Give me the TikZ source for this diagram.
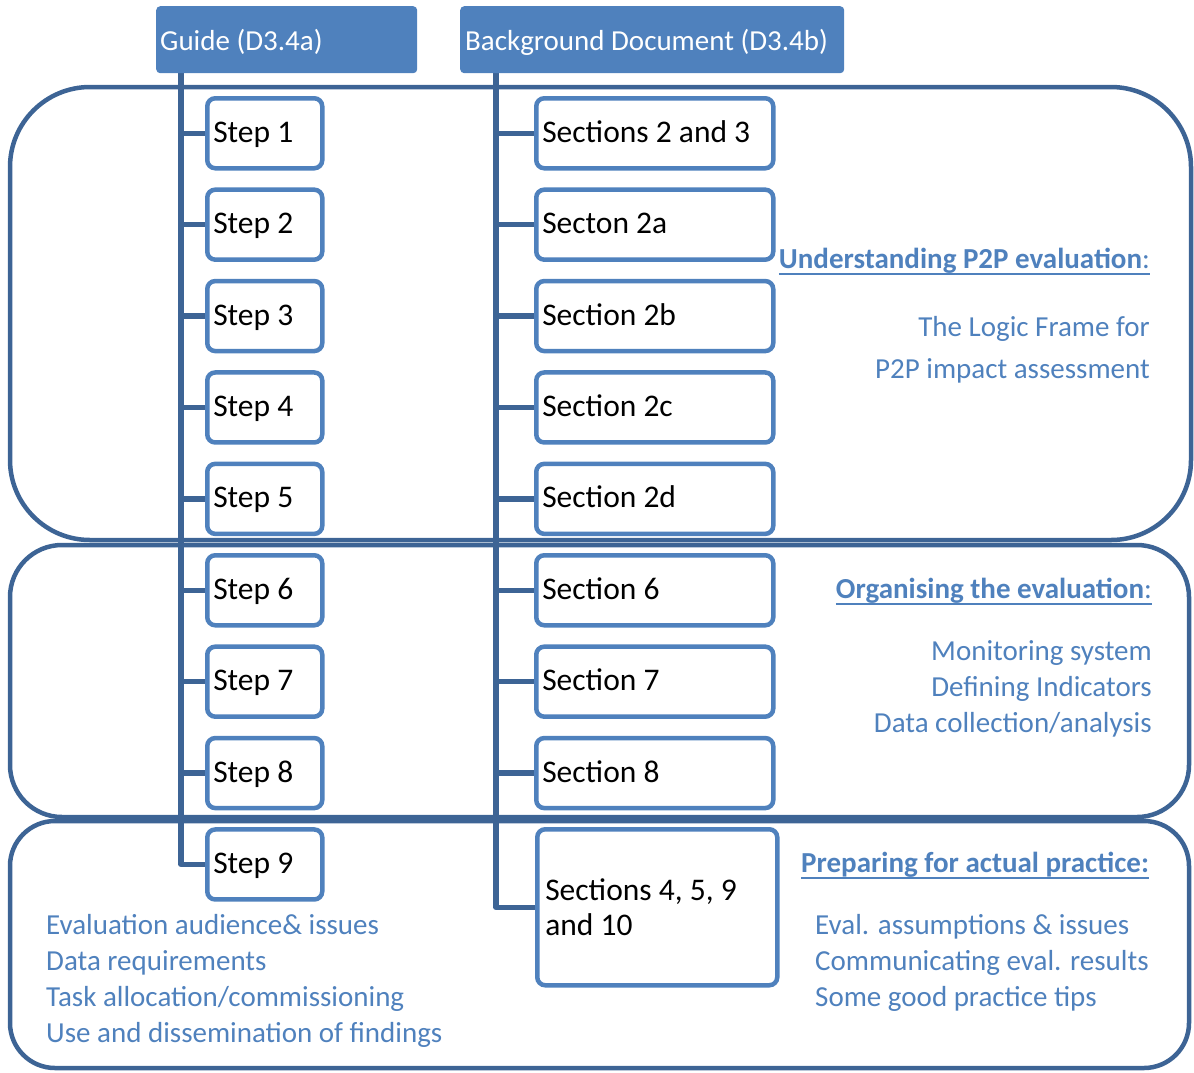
\documentclass[tikz,border=0pt]{standalone}
\usepackage{fontspec}
\setmainfont{Carlito}
\usetikzlibrary{calc,backgrounds}
\definecolor{accent}{HTML}{4F81BD}
\definecolor{dark}{HTML}{3D6495}
\newcommand{\myul}[1]{\setbox0\hbox{#1}\leavevmode\rlap{\rule[-7pt]{\wd0}{2pt}}\box0}
\begin{document}
\begin{tikzpicture}[x=1pt,y=-1pt,
  region/.style={draw=dark, line width=4.5pt},
  trunk/.style={draw=dark, line width=5.5pt, line join=round},
  natspace/.style={execute at begin node={\spaceskip=0pt\xspaceskip=0pt}},
  hdrbox/.style={natspace, fill=accent, rounded corners=4pt, text=white, font=\fontsize{29}{35}\selectfont, anchor=north west, minimum height=67pt, inner ysep=0pt, align=left, text height=21pt, text depth=0pt},
  boxbase/.style={natspace, draw=accent, line width=4.5pt, fill=white, rounded corners=8pt, anchor=north west, align=left, inner ysep=0pt, font=\fontsize{31.5}{35}\selectfont},
  stepbox/.style={boxbase, minimum height=70pt, text width=103pt, inner xsep=6pt, text height=19pt, text depth=1pt},
  secbox/.style={boxbase, minimum height=70pt, text width=225pt, inner xsep=6pt, text height=19pt, text depth=1pt},
  note/.style={text=accent, font=\fontsize{29}{35}\selectfont, inner sep=0pt},
]
\useasboundingbox (0,0) rectangle (1194,1072);

% headers
\node[hdrbox, text width=253pt, inner xsep=4pt] (guide) at (156,6) {Guide (D3.4a)};
\node[hdrbox, text width=374pt, inner xsep=5pt] (bg) at (460,6) {Background Document (D3.4b)};

% step boxes
\foreach \i [evaluate=\i as \y using 96+91.4*(\i-1)] in {1,...,9}
  \node[stepbox] (s\i) at (205,\y) {Step \i};

% section boxes
\foreach \i/\t [evaluate=\i as \y using 96+91.4*(\i-1)] in {1/Sections 2 and 3,2/Secton 2a,3/Section 2b,4/Section 2c,5/Section 2d,6/Section 6,7/Section 7,8/Section 8}
  \node[secbox] (c\i) at (534,\y) {\t};
\node[boxbase, minimum height=156pt, text width=224pt, inner xsep=8pt] (c9) at (535,827) {Sections 4, 5, 9\\and 10};

\begin{scope}[on background layer]
  \draw[region, rounded corners=80pt] (10,87) rectangle (1191,540);
  \draw[region, rounded corners=52pt] (10,545) rectangle (1189,817);
  \draw[region, rounded corners=45pt] (10,821) rectangle (1189,1068);
  \coordinate (ltop) at ($(guide.south west)+(25,0)$);
  \coordinate (rtop) at ($(bg.south west)+(36,0)$);
  \draw[trunk] (ltop) |- (s9.west);
  \draw[trunk] (rtop) |- (c9.west);
  \foreach \i in {1,...,8} {
    \draw[trunk] (ltop |- s\i.west) -- (s\i.west);
    \draw[trunk] (rtop |- c\i.west) -- (c\i.west);
  }
\end{scope}

% region 1 notes
\node[note, anchor=base east] (h1) at (1150,268) {\myul{\textbf{Understanding P2P evaluation}:}};
\node[note, anchor=base east] (h1a) at (1150,336) {The Logic Frame for};
\node[note, anchor=base east] (h1b) at (1150,378) {P2P impact assessment};

% region 2 notes
\node[note, anchor=base east] (h2) at (1152,598) {\myul{\textbf{Organising the evaluation}:}};
\node[note, anchor=base east] (h2a) at (1152,660) {Monitoring system};
\node[note, anchor=base east] (h2b) at (1152,696) {Defining Indicators};
\node[note, anchor=base east] (h2c) at (1152,732) {Data collection/analysis};

% region 3 notes
\node[note, anchor=base west] (h3) at (801,872) {\myul{\textbf{Preparing for actual practice:}}};
\node[note, anchor=base west] (h3a) at (815,934) {Eval. assumptions \& issues};
\node[note, anchor=base west] (h3b) at (815,970) {Communicating eval. results};
\node[note, anchor=base west] (h3c) at (815,1006) {Some good practice tips};

\node[note, anchor=base west] (l1) at (46,934) {Evaluation audience\& issues};
\node[note, anchor=base west] (l2) at (46,970) {Data requirements};
\node[note, anchor=base west] (l3) at (46,1006) {Task allocation/commissioning};
\node[note, anchor=base west] (l4) at (46,1042) {Use and dissemination of findings};
\end{tikzpicture}
\end{document}
